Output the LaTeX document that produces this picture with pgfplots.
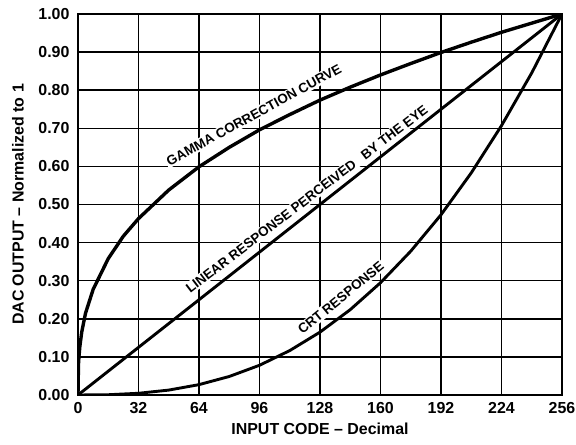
\documentclass[border=0pt]{standalone}
\usepackage{fontspec}
\setmainfont{Liberation Sans}
\usepackage{pgfplots}
\pgfplotsset{compat=1.18}
\begin{document}
\begin{tikzpicture}
\useasboundingbox (-78bp,-50bp) rectangle (498bp,395bp);
\begin{axis}[
  at={(0,0)}, anchor=south west,
  scale only axis,
  width=484bp, height=381bp,
  xmin=0, xmax=256, ymin=0, ymax=1,
  xtick={0,32,...,256},
  ytick={0,0.1,...,1.0001},
  grid=major,
  major grid style={black, line width=1.6pt},
  major tick length=0pt,
  axis line style={black, line width=2.6pt},
  /pgf/number format/assume math mode=true,
  yticklabel style={/pgf/number format/fixed, /pgf/number format/fixed zerofill, /pgf/number format/precision=2, font=\fontsize{16}{18}\selectfont\bfseries, xshift=-5bp},
  xticklabel style={font=\fontsize{16}{18}\selectfont\bfseries, yshift=-4bp},
  xlabel={INPUT CODE -- Decimal},
  ylabel={DAC OUTPUT -- Normalized to 1},
  xlabel style={font=\fontsize{16}{18}\selectfont\bfseries, at={(axis description cs:0.5,-0.089)}, anchor=center},
  ylabel style={font=\fontsize{16}{18}\selectfont\bfseries, at={(axis description cs:-0.124,0.5)}, anchor=center},
]
\node[fill=white, inner sep=1.5bp, rotate=28.7, font=\fontsize{13.5}{15}\selectfont\bfseries] at (axis cs:93,0.735) {GAMMA CORRECTION CURVE};
\node[fill=white, inner sep=1.5bp, rotate=37.3, font=\fontsize{13.5}{15}\selectfont\bfseries] at (axis cs:121,0.514) {LINEAR RESPONSE PERCEIVED\hspace{10bp}BY THE EYE};
\node[fill=white, inner sep=1.5bp, rotate=39.2, font=\fontsize{13.5}{15}\selectfont\bfseries] at (axis cs:139,0.255) {CRT RESPONSE};
% gamma correction
\addplot[black, line width=3.4pt, line join=round] coordinates {
(0,0) (0.25,0.08) (0.5,0.100) (1,0.128) (2,0.166) (4,0.215) (8,0.277) (16,0.358) (24,0.417) (32,0.463) (48,0.538) (64,0.599) (80,0.650) (96,0.696) (112,0.736) (128,0.774) (144,0.808) (160,0.840) (176,0.870) (192,0.899) (208,0.926) (224,0.952) (240,0.976) (256,1)};
% linear
\addplot[black, line width=2.9pt] coordinates {(0,0) (256,1)};
% CRT
\addplot[black, line width=2.9pt, line join=round] coordinates {
(0,0) (16,0.0007) (32,0.0045) (48,0.0129) (64,0.0272) (80,0.0486) (96,0.078) (112,0.1166) (128,0.165) (144,0.224) (160,0.2947) (176,0.3775) (192,0.473) (208,0.583) (224,0.707) (240,0.8455) (256,1)};
\end{axis}
\end{tikzpicture}
\end{document}
